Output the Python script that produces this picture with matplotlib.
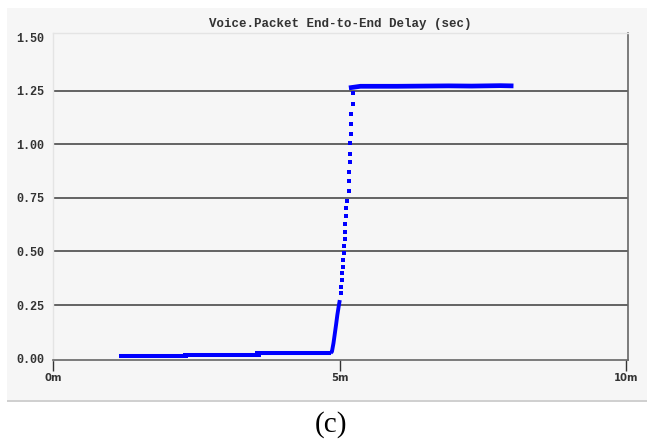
import matplotlib
matplotlib.use("Agg")
import matplotlib.pyplot as plt
from matplotlib.patches import Rectangle

# flat segments of the delay trace before the jump (minutes, seconds)
flat_start = [1.14, 2.27, 3.52]
flat_end = [2.35, 3.62, 4.85]
flat_level = [0.012, 0.018, 0.024]

# steep, densely sampled part of the jump
ramp_x = [4.84, 4.863, 4.89, 4.91, 4.934, 4.957, 4.98, 5.0]
ramp_y = [0.026, 0.032, 0.072, 0.110, 0.156, 0.203, 0.242, 0.273]

# sparse samples of the jump (drawn as dots)
dot_x = [5.016, 5.021, 5.033, 5.038, 5.05, 5.06, 5.073, 5.073, 5.085, 5.096,
         5.096, 5.108, 5.108, 5.12, 5.154, 5.154, 5.154, 5.178, 5.178, 5.178,
         5.2, 5.2, 5.2, 5.223, 5.223]
dot_y = [0.306, 0.336, 0.367, 0.400, 0.429, 0.460, 0.493, 0.526, 0.558, 0.593,
         0.628, 0.666, 0.703, 0.736, 0.784, 0.829, 0.871, 0.920, 0.957, 1.007,
         1.049, 1.097, 1.141, 1.189, 1.239]

# plateau after the jump
top_x = [5.20, 5.36, 6.0, 6.9, 7.3, 7.8, 7.99]
top_y = [1.266, 1.272, 1.272, 1.274, 1.273, 1.275, 1.274]

yticks = [0.0, 0.25, 0.5, 0.75, 1.0, 1.25, 1.5]
ytick_labels = ["0.00", "0.25", "0.50", "0.75", "1.00", "1.25", "1.50"]
xticks = [0, 5, 10]
xtick_labels = ["0m", "5m", "10m"]

title = "Voice.Packet End-to-End Delay (sec)"
caption = "(c)"

W, H = 647, 445
fig = plt.figure(figsize=(W / 100, H / 100), dpi=100)

# gray panel behind the chart
panel_bg = "#f6f6f6"
fig.patches.append(Rectangle((7 / W, (H - 400) / H), (W - 7) / W, 392 / H,
                             transform=fig.transFigure, facecolor=panel_bg,
                             edgecolor="none", zorder=-2))
fig.patches.append(Rectangle((7 / W, (H - 401.5) / H), (W - 7) / W, 2 / H,
                             transform=fig.transFigure, facecolor="#d0d0d0",
                             edgecolor="none", zorder=-1))

ax = fig.add_axes([52.5 / W, (H - 360) / H, (628 - 52.5) / W, (360 - 33) / H])
ax.set_zorder(2)
ax.set_facecolor(panel_bg)

blue = "#0000ff"
ax.hlines(flat_level, flat_start, flat_end, colors=blue, linewidth=2.9,
          zorder=3)
ax.plot(ramp_x, ramp_y, color=blue, linewidth=2.8, solid_capstyle="butt",
        zorder=3)
ax.plot(dot_x, dot_y, linestyle="none", marker="s", markersize=2.6,
        color=blue, markeredgewidth=0, zorder=3)
ax.plot(top_x, top_y, color=blue, linewidth=3.4, zorder=3)

ax.set_xlim(-0.014, 10.03)
ax.set_ylim(-0.007, 1.521)

for yv in yticks[1:-1]:
    ax.axhline(yv, color="#4a4a4a", linewidth=1.2, zorder=2)

mono = ["Liberation Mono", "DejaVu Sans Mono"]
ax.set_yticks(yticks)
ax.set_yticklabels(ytick_labels, family=mono, fontsize=8.5, fontweight="bold",
                   color="#333333")
ax.tick_params(axis="y", length=0, pad=6)

ax.set_xticks(xticks)
ax.set_xticklabels(xtick_labels, fontsize=8, fontweight="bold",
                   fontstretch="condensed", color="#333333")
ax.tick_params(axis="x", direction="out", length=8, width=1,
               color="#333333", pad=1.5)

for side in ("left", "top"):
    ax.spines[side].set_color("#e4e4e4")
    ax.spines[side].set_linewidth(1)
for side in ("right", "bottom"):
    ax.spines[side].set_color("#666666")
    ax.spines[side].set_linewidth(1.2)

fig.text(340 / W, (H - 24) / H, title, family=mono, fontsize=9,
         fontweight="bold", ha="center", va="center", color="#333333")
fig.text(331 / W, (H - 425) / H, caption, family="Liberation Serif",
         fontsize=21, ha="center", va="center", color="black")

fig.savefig("out.png", dpi=100)
